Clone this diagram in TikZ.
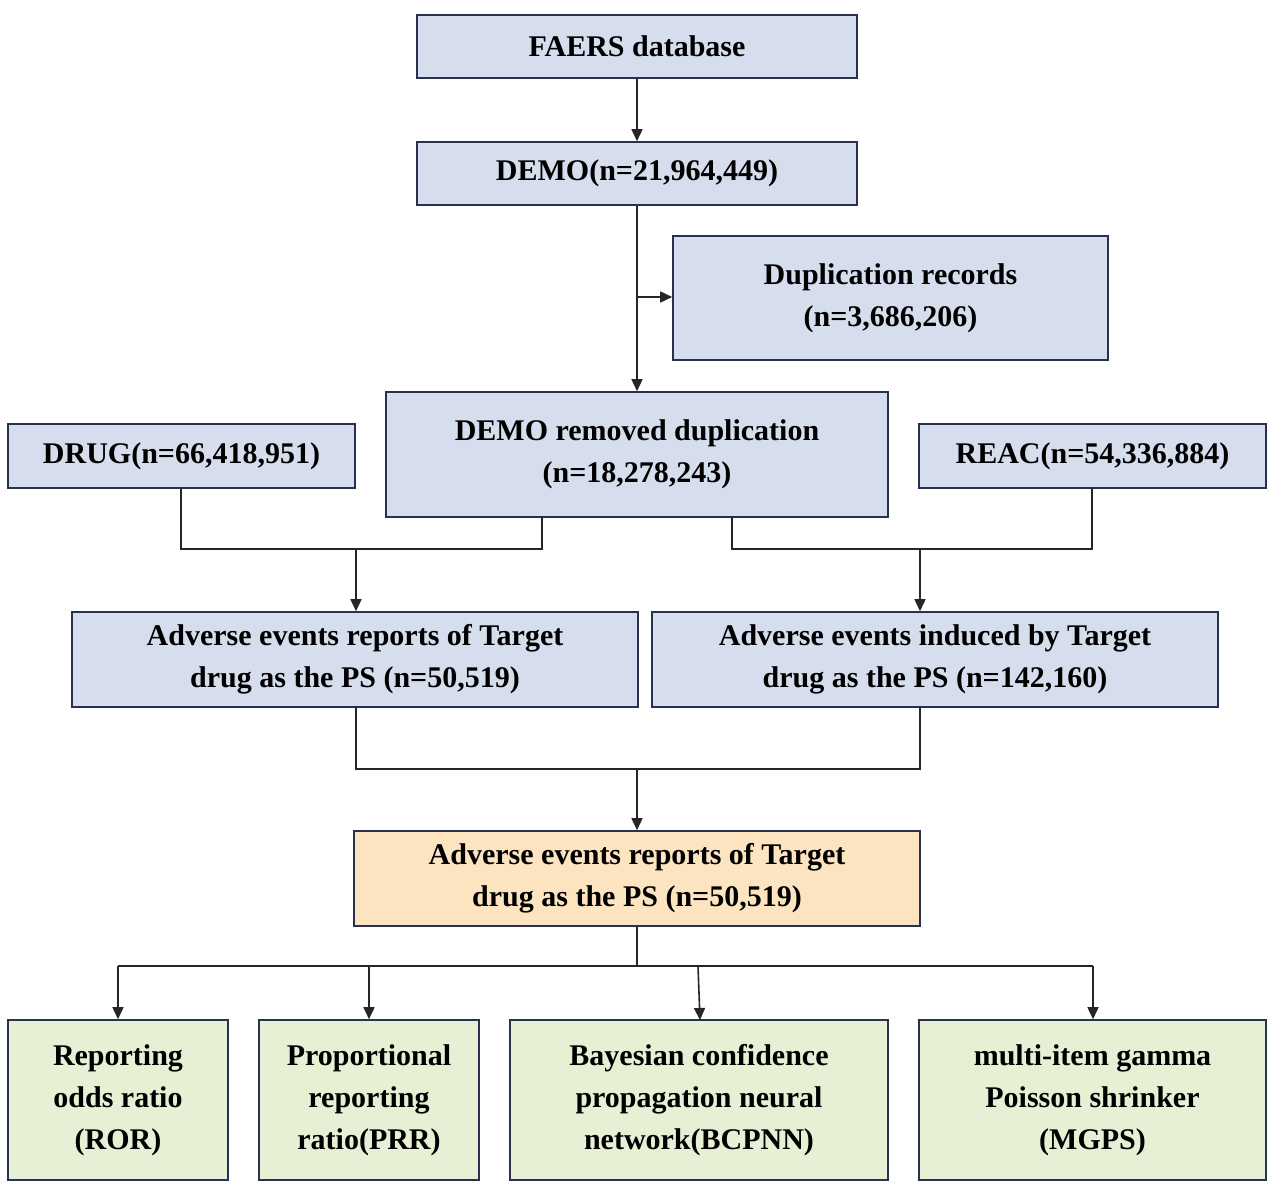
\documentclass[tikz,border=0pt]{standalone}
\usepackage{fontspec}
\setmainfont{Liberation Serif}
\usetikzlibrary{arrows.meta}
\definecolor{bfill}{RGB}{214,222,238}
\definecolor{bdraw}{RGB}{40,50,80}
\definecolor{ofill}{RGB}{252,228,192}
\definecolor{gfill}{RGB}{231,240,212}
\begin{document}
\begin{tikzpicture}[x=1pt,y=-1pt,
 box/.style={draw=bdraw,line width=1.6pt,fill=bfill,align=center,inner sep=0pt,
   font=\fontsize{30}{42}\selectfont\bfseries},
 conn/.style={line width=1.6pt,draw=black!85},
 arr/.style={conn,-{Triangle[length=12pt,width=11pt]}}]
\useasboundingbox (0,0) rectangle (1280,1196);
\newcommand\bx[7]{\node[box,#7,minimum width=#3-#2,minimum height=#5-#4] (#1) at ({(#2+#3)/2},{(#4+#5)/2}) {#6};}
\bx{faers}{417}{857}{15}{78}{FAERS database}{}
\bx{demo}{417}{857}{142}{205}{DEMO(n=21,964,449)}{}
\bx{dup}{673}{1108}{236}{360}{Duplication records\\(n=3,686,206)}{}
\bx{rem}{386}{888}{392}{517}{DEMO removed duplication\\(n=18,278,243)}{}
\bx{drug}{8}{355}{424}{488}{DRUG(n=66,418,951)}{}
\bx{reac}{919}{1266}{424}{488}{REAC(n=54,336,884)}{}
\bx{aer}{72}{638}{612}{707}{Adverse events reports of Target\\drug as the PS (n=50,519)}{}
\bx{aei}{652}{1218}{612}{707}{Adverse events induced by Target\\drug as the PS (n=142,160)}{}
\bx{fin}{354}{920}{831}{926}{Adverse events reports of Target\\drug as the PS (n=50,519)}{fill=ofill}
\bx{ror}{8}{228}{1020}{1180}{Reporting\\odds ratio\\(ROR)}{fill=gfill}
\bx{prr}{259}{479}{1020}{1180}{Proportional\\reporting\\ratio(PRR)}{fill=gfill}
\bx{bcp}{510}{888}{1020}{1180}{Bayesian confidence\\propagation neural\\network(BCPNN)}{fill=gfill}
\bx{mgps}{919}{1266}{1020}{1180}{multi-item gamma\\Poisson shrinker\\(MGPS)}{fill=gfill}
\draw[arr] (faers) -- (demo);
\draw[arr] (demo) -- (rem);
\coordinate (j1) at (637,297);
\draw[arr] (j1) -- (dup.west|-j1);
\coordinate (l1) at (181,549); \coordinate (l2) at (356,549);
\draw[conn] (drug.south-|l1) -- (l1) -- (542,549) -- (542,517);
\draw[arr] (l2) -- (aer.north-|l2);
\coordinate (r1) at (920,549);
\draw[conn] (732,517) -- (732,549) -- (1092,549) -- (1092,488);
\draw[arr] (r1) -- (aei.north-|r1);
\coordinate (m1) at (637,769);
\draw[conn] (356,707) -- (356,769) -- (920,769) -- (920,707);
\draw[arr] (m1) -- (fin);
\coordinate (b0) at (637,966);
\draw[conn] (fin) -- (b0);
\draw[conn] (118,966) -- (1093,966);
\draw[arr] (118,966) -- (ror.north-|118,0);
\draw[arr] (369,966) -- (prr.north-|369,0);
\draw[arr] (698,966) -- (700,1020);
\draw[arr] (1093,966) -- (mgps.north-|1093,0);
\end{tikzpicture}
\end{document}
